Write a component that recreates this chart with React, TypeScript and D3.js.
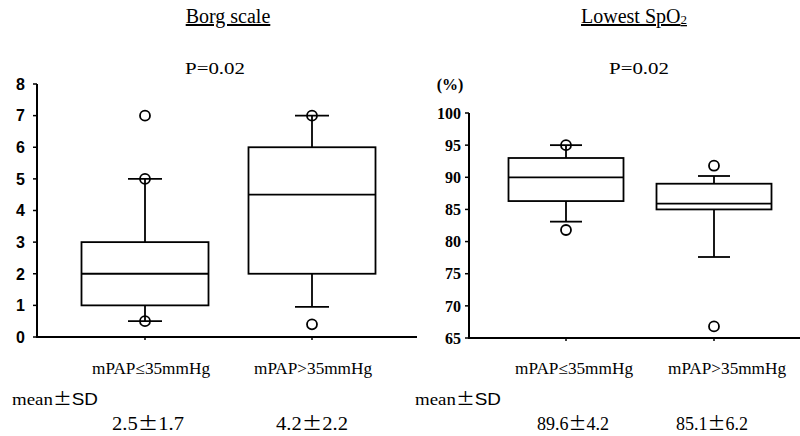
import React from "react";
import * as d3 from "d3";

const categories = ["mPAP≤35mmHg", "mPAP>35mmHg"];

const borgQ1 = [1, 2];
const borgMedian = [2, 4.5];
const borgQ3 = [3, 6];
const borgWhiskerLow = [0.5, 0.95];
const borgWhiskerHigh = [5, 7];
const borgOutliers = [[7, 5, 0.5], [7, 0.4]];
const borgMeanSD = ["2.5", "1.7", "4.2", "2.2"];
const borgTicks = [0, 1, 2, 3, 4, 5, 6, 7, 8];

const spoQ1 = [86.3, 85];
const spoMedian = [90, 85.9];
const spoQ3 = [93, 89];
const spoWhiskerLow = [83.1, 77.6];
const spoWhiskerHigh = [95, 90.2];
const spoOutliers = [[95, 81.8], [91.8, 66.8]];
const spoMeanSD = ["89.6", "4.2", "85.1", "6.2"];
const spoTicks = [65, 70, 75, 80, 85, 90, 95, 100];

const serif = "'Liberation Serif', 'Times New Roman', serif";
const cjk = "'Noto Sans CJK JP', sans-serif";

type PanelProps = {
  title: React.ReactNode;
  titleX: number;
  pX: number;
  axisX: number;
  axisEnd: number;
  yDomain: [number, number];
  yRange: [number, number];
  centers: [number, number];
  boxW: number;
  capW: number;
  ticks: number[];
  q1: number[];
  med: number[];
  q3: number[];
  wl: number[];
  wh: number[];
  outliers: number[][];
  meanSD: string[];
  labelX: number[];
  meanX: number[];
  meanLabelX: number;
  tickFont: string;
  tickWeight: string;
  tickGap: number;
  unit?: boolean;
};

function Panel(p: PanelProps) {
  const y = d3.scaleLinear().domain(p.yDomain).range(p.yRange);
  const x = d3.scalePoint<string>().domain(categories).range(p.centers);
  const sw = 1.8;
  return (
    <g>
      <text x={p.titleX} y={23} textAnchor="middle" fontFamily={serif} fontSize={20} textDecoration="underline">
        {p.title}
      </text>
      <text x={p.pX} y={74} textAnchor="middle" fontFamily={serif} fontSize={17} textLength={60} lengthAdjust="spacingAndGlyphs">
        P=0.02
      </text>
      {p.unit && (
        <text x={450} y={90} textAnchor="middle" fontFamily={serif} fontSize={16} fontWeight="bold">
          (%)
        </text>
      )}
      {/* y axis */}
      <line x1={p.axisX} x2={p.axisX} y1={y(p.yDomain[0]) + 1} y2={y(p.yDomain[1])} stroke="#000" strokeWidth={2} />
      {p.ticks.map((t) => (
        <g key={t}>
          <line x1={p.axisX - 4} x2={p.axisX} y1={y(t)} y2={y(t)} stroke="#000" strokeWidth={1.5} />
          <text
            x={p.axisX - p.tickGap}
            y={y(t)}
            dy="0.36em"
            textAnchor="end"
            fontFamily={p.tickFont}
            fontWeight={p.tickWeight}
            fontSize={16}
          >
            {t}
          </text>
        </g>
      ))}
      {/* x axis */}
      <line x1={p.axisX - 1} x2={p.axisEnd} y1={y(p.yDomain[0])} y2={y(p.yDomain[0])} stroke="#000" strokeWidth={2} />
      {categories.map((c, i) => (
        <g key={c}>
          <line x1={x(c)!} x2={x(c)!} y1={y(p.yDomain[0])} y2={y(p.yDomain[0]) + 3} stroke="#000" strokeWidth={1.5} />
          {/* whiskers */}
          <line x1={x(c)!} x2={x(c)!} y1={y(p.q3[i])} y2={y(p.wh[i])} stroke="#000" strokeWidth={sw} />
          <line x1={x(c)!} x2={x(c)!} y1={y(p.q1[i])} y2={y(p.wl[i])} stroke="#000" strokeWidth={sw} />
          <line x1={x(c)! - p.capW / 2} x2={x(c)! + p.capW / 2} y1={y(p.wh[i])} y2={y(p.wh[i])} stroke="#000" strokeWidth={sw} />
          <line x1={x(c)! - p.capW / 2} x2={x(c)! + p.capW / 2} y1={y(p.wl[i])} y2={y(p.wl[i])} stroke="#000" strokeWidth={sw} />
          {/* box */}
          <rect
            x={x(c)! - p.boxW / 2}
            y={y(p.q3[i])}
            width={p.boxW}
            height={y(p.q1[i]) - y(p.q3[i])}
            fill="#fff"
            stroke="#000"
            strokeWidth={sw}
          />
          <line x1={x(c)! - p.boxW / 2} x2={x(c)! + p.boxW / 2} y1={y(p.med[i])} y2={y(p.med[i])} stroke="#000" strokeWidth={sw} />
          {p.outliers[i].map((o, j) => (
            <circle key={j} cx={x(c)!} cy={y(o)} r={5} fill="none" stroke="#000" strokeWidth={1.8} />
          ))}
          {/* category label */}
          <text x={p.labelX[i]} y={374} textAnchor="middle" fontFamily={serif} fontSize={16} textLength={118} lengthAdjust="spacingAndGlyphs">
            {c}
          </text>
          <text x={p.meanX[i]} y={430} textAnchor="middle" fontFamily={serif} fontSize={18} textLength={72} lengthAdjust="spacingAndGlyphs">
            {p.meanSD[i * 2]}
            <tspan fontFamily={cjk}>±</tspan>
            {p.meanSD[i * 2 + 1]}
          </text>
        </g>
      ))}
      <text x={p.meanLabelX} y={405} fontFamily={serif} fontSize={17} textLength={86} lengthAdjust="spacingAndGlyphs">
        mean<tspan fontFamily={cjk}>±</tspan>
        <tspan fontFamily="'Liberation Sans', sans-serif">SD</tspan>
      </text>
    </g>
  );
}

export default function App() {
  return (
    <svg
      width={800}
      height={436}
      style={{ position: "absolute", left: 0, top: 0, background: "#fff" }}
    >
      <rect width={800} height={436} fill="#fff" />
      <Panel
        title="Borg scale"
        titleX={228}
        pX={215}
        axisX={37}
        axisEnd={417}
        yDomain={[0, 8]}
        yRange={[337, 84]}
        centers={[145, 312]}
        boxW={127}
        capW={34}
        ticks={borgTicks}
        q1={borgQ1}
        med={borgMedian}
        q3={borgQ3}
        wl={borgWhiskerLow}
        wh={borgWhiskerHigh}
        outliers={borgOutliers}
        meanSD={borgMeanSD}
        labelX={[151, 313]}
        meanX={[148, 312]}
        meanLabelX={12}
        tickFont="'Liberation Sans Narrow', 'Liberation Sans', sans-serif"
        tickWeight="bold"
        tickGap={12}
      />
      <Panel
        title={
          <>
            Lowest SpO<tspan fontSize={13} dy={1}>2</tspan>
          </>
        }
        titleX={634}
        pX={639}
        axisX={469}
        axisEnd={800}
        yDomain={[65, 100]}
        yRange={[338, 113]}
        centers={[566, 714]}
        boxW={115}
        capW={32}
        ticks={spoTicks}
        q1={spoQ1}
        med={spoMedian}
        q3={spoQ3}
        wl={spoWhiskerLow}
        wh={spoWhiskerHigh}
        outliers={spoOutliers}
        meanSD={spoMeanSD}
        labelX={[574, 727]}
        meanX={[573, 712]}
        meanLabelX={415}
        tickFont={serif}
        tickWeight="bold"
        tickGap={8}
        unit
      />
    </svg>
  );
}
